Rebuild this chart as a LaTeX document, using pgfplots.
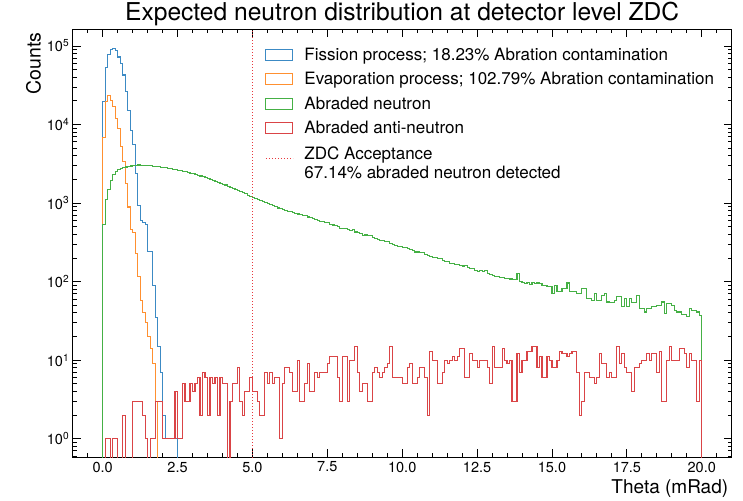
\documentclass[border=0pt]{standalone}
\usepackage{fontspec}
\setmainfont{TeX Gyre Heros}
\usepackage{pgfplots}
\usepackage{pgfplotstable}
\pgfplotsset{compat=1.18}

\definecolor{tabblue}{HTML}{3C8AC4}
\definecolor{taborange}{HTML}{FF9030}
\definecolor{tabgreen}{HTML}{45B045}
\definecolor{tabred}{HTML}{DA4446}
\definecolor{zdcred}{HTML}{E8383D}

\pgfplotsset{
  histbox entry/.style={legend image code/.code={\draw[##1] (0pt,-5.5pt) rectangle (27pt,5.5pt);}},
  acceptance entry/.style={legend image code/.code={\draw[##1] (0pt,0pt) -- (27pt,0pt);}},
}

% Histograms: left bin edge (bin width 1/12 mrad) and counts; 0.01 stands for an empty bin.
\pgfplotstableread[row sep=\\]{
x y\\
0 0.01\\
0 19500\\ 0.0833 52500\\ 0.1667 77600\\ 0.25 90000\\ 0.3333 92000\\ 0.4167 87000\\ 0.5 72400\\ 0.5833 60300\\ 0.6667 42700\\ 0.75 26300\\ 0.8333 15100\\ 0.9167 8500\\
1 5500\\ 1.0833 2400\\ 1.1667 930\\ 1.25 600\\ 1.3333 560\\ 1.4167 540\\ 1.5 240\\ 1.5833 240\\ 1.6667 90\\ 1.75 35\\ 1.8333 15\\ 1.9167 7\\
2 2\\ 2.0833 1\\ 2.1667 1\\ 2.25 1\\ 2.3333 1\\ 2.4167 1\\ 2.5 0.01\\
}\fissiontab

\pgfplotstableread[row sep=\\]{
x y\\
0 0.01\\
0 6900\\ 0.0833 19500\\ 0.1667 23400\\ 0.25 20000\\ 0.3333 17000\\ 0.4167 12000\\ 0.5 8900\\ 0.5833 5250\\ 0.6667 3400\\ 0.75 1780\\ 0.8333 890\\ 0.9167 460\\
1 420\\ 1.0833 230\\ 1.1667 115\\ 1.25 58\\ 1.3333 40\\ 1.4167 30\\ 1.5 20\\ 1.5833 14\\ 1.6667 9\\ 1.75 3\\ 1.8333 0.01\\
}\evaptab

\pgfplotstableread[row sep=\\]{
x y\\
0 0.01\\
0 540\\ 0.0833 1100\\ 0.1667 1480\\ 0.25 1950\\ 0.3333 2290\\ 0.4167 2510\\ 0.5 2690\\ 0.5833 2750\\ 0.6667 2820\\ 0.75 2880\\ 0.8333 2920\\ 0.9167 2960\\
1 2990\\ 1.0833 3020\\ 1.1667 3050\\ 1.25 3030\\ 1.3333 3040\\ 1.4167 3010\\ 1.5 3000\\ 1.5833 2980\\ 1.6667 2950\\ 1.75 2930\\ 1.8333 2900\\ 1.9167 2870\\
2 2860\\ 2.0833 2810\\ 2.1667 2760\\ 2.25 2750\\ 2.3333 2700\\ 2.4167 2650\\ 2.5 2630\\ 2.5833 2600\\ 2.6667 2540\\ 2.75 2500\\ 2.8333 2460\\ 2.9167 2410\\
3 2350\\ 3.0833 2310\\ 3.1667 2250\\ 3.25 2210\\ 3.3333 2170\\ 3.4167 2110\\ 3.5 2040\\ 3.5833 2000\\ 3.6667 1950\\ 3.75 1890\\ 3.8333 1850\\ 3.9167 1790\\
4 1740\\ 4.0833 1700\\ 4.1667 1640\\ 4.25 1590\\ 4.3333 1550\\ 4.4167 1490\\ 4.5 1450\\ 4.5833 1400\\ 4.6667 1350\\ 4.75 1310\\ 4.8333 1260\\ 4.9167 1210\\
5 1180\\ 5.0833 1150\\ 5.1667 1110\\ 5.25 1080\\ 5.3333 1050\\ 5.4167 1010\\ 5.5 975\\ 5.5833 950\\ 5.6667 920\\ 5.75 900\\ 5.8333 865\\ 5.9167 845\\
6 830\\ 6.0833 810\\ 6.1667 790\\ 6.25 785\\ 6.3333 755\\ 6.4167 740\\ 6.5 725\\ 6.5833 710\\ 6.6667 700\\ 6.75 690\\ 6.8333 665\\ 6.9167 650\\
7 632\\ 7.0833 620\\ 7.1667 605\\ 7.25 585\\ 7.3333 580\\ 7.4167 560\\ 7.5 565\\ 7.5833 540\\ 7.6667 525\\ 7.75 515\\ 7.8333 500\\ 7.9167 470\\
8 480\\ 8.0833 470\\ 8.1667 460\\ 8.25 450\\ 8.3333 455\\ 8.4167 428\\ 8.5 418\\ 8.5833 408\\ 8.6667 390\\ 8.75 392\\ 8.8333 382\\ 8.9167 385\\
9 362\\ 9.0833 352\\ 9.1667 340\\ 9.25 330\\ 9.3333 330\\ 9.4167 320\\ 9.5 322\\ 9.5833 305\\ 9.6667 298\\ 9.75 290\\ 9.8333 278\\ 9.9167 282\\
10 275\\ 10.0833 272\\ 10.1667 262\\ 10.25 255\\ 10.3333 250\\ 10.4167 238\\ 10.5 238\\ 10.5833 232\\ 10.6667 232\\ 10.75 220\\ 10.8333 215\\ 10.9167 210\\
11 205\\ 11.0833 202\\ 11.1667 198\\ 11.25 196\\ 11.3333 188\\ 11.4167 182\\ 11.5 180\\ 11.5833 170\\ 11.6667 170\\ 11.75 166\\ 11.8333 167\\ 11.9167 162\\
12 158\\ 12.0833 160\\ 12.1667 150\\ 12.25 147\\ 12.3333 145\\ 12.4167 137\\ 12.5 135\\ 12.5833 137\\ 12.6667 133\\ 12.75 137\\ 12.8333 128\\ 12.9167 122\\
13 120\\ 13.0833 117\\ 13.1667 116\\ 13.25 112\\ 13.3333 112\\ 13.4167 110\\ 13.5 110\\ 13.5833 108\\ 13.6667 106\\ 13.75 107\\ 13.8333 127\\ 13.9167 100\\
14 98\\ 14.0833 95\\ 14.1667 97\\ 14.25 93\\ 14.3333 97\\ 14.4167 95\\ 14.5 96\\ 14.5833 94\\ 14.6667 90\\ 14.75 90\\ 14.8333 86\\ 14.9167 86\\
15 71\\ 15.0833 90\\ 15.1667 74\\ 15.25 74\\ 15.3333 82\\ 15.4167 82\\ 15.5 96\\ 15.5833 74\\ 15.6667 74\\ 15.75 74\\ 15.8333 71\\ 15.9167 71\\
16 82\\ 16.0833 82\\ 16.1667 61\\ 16.25 61\\ 16.3333 58\\ 16.4167 71\\ 16.5 58\\ 16.5833 58\\ 16.6667 67\\ 16.75 71\\ 16.8333 55\\ 16.9167 54\\
17 54\\ 17.0833 58\\ 17.1667 64\\ 17.25 64\\ 17.3333 48\\ 17.4167 61\\ 17.5 48\\ 17.5833 61\\ 17.6667 54\\ 17.75 54\\ 17.8333 67\\ 17.9167 45\\
18 45\\ 18.0833 41\\ 18.1667 45\\ 18.25 45\\ 18.3333 48\\ 18.4167 48\\ 18.5 50\\ 18.5833 50\\ 18.6667 55\\ 18.75 39\\ 18.8333 53\\ 18.9167 53\\
19 50\\ 19.0833 43\\ 19.1667 41\\ 19.25 41\\ 19.3333 38\\ 19.4167 38\\ 19.5 36\\ 19.5833 45\\ 19.6667 43\\ 19.75 43\\ 19.8333 41\\ 19.9167 37\\
20 0.01\\
}\abradedtab

\pgfplotstableread[row sep=\\]{
x y\\
0 0.01\\
0 0.01\\ 0.0833 1\\ 0.1667 1\\ 0.25 0.01\\ 0.3333 1\\ 0.4167 1\\ 0.5 0.01\\ 0.5833 0.01\\ 0.6667 2\\ 0.75 0.01\\ 0.8333 0.01\\ 0.9167 0.01\\
1 3\\ 1.0833 3\\ 1.1667 3\\ 1.25 3\\ 1.3333 2\\ 1.4167 1\\ 1.5 0.01\\ 1.5833 1\\ 1.6667 1\\ 1.75 3\\ 1.8333 3\\ 1.9167 3\\
2 1\\ 2.0833 1\\ 2.1667 1\\ 2.25 1\\ 2.3333 1\\ 2.4167 4\\ 2.5 1\\ 2.5833 1\\ 2.6667 5\\ 2.75 3\\ 2.8333 3\\ 2.9167 5\\
3 4\\ 3.0833 5\\ 3.1667 6\\ 3.25 2\\ 3.3333 7\\ 3.4167 6\\ 3.5 2\\ 3.5833 6\\ 3.6667 5\\ 3.75 6\\ 3.8333 2\\ 3.9167 6\\
4 5\\ 4.0833 5\\ 4.1667 0.01\\ 4.25 3\\ 4.3333 5\\ 4.4167 5\\ 4.5 8\\ 4.5833 3\\ 4.6667 2\\ 4.75 4\\ 4.8333 4\\ 4.9167 6\\
5 4\\ 5.0833 4\\ 5.1667 3\\ 5.25 2\\ 5.3333 2\\ 5.4167 7\\ 5.5 5\\ 5.5833 7\\ 5.6667 5\\ 5.75 6\\ 5.8333 6\\ 5.9167 1\\
6 5\\ 6.0833 8\\ 6.1667 8\\ 6.25 7\\ 6.3333 4\\ 6.4167 4\\ 6.5 10\\ 6.5833 3\\ 6.6667 3\\ 6.75 5\\ 6.8333 9\\ 6.9167 4\\
7 4\\ 7.0833 7\\ 7.1667 6\\ 7.25 7\\ 7.3333 7\\ 7.4167 7\\ 7.5 9\\ 7.5833 11\\ 7.6667 11\\ 7.75 11\\ 7.8333 6\\ 7.9167 3\\
8 11\\ 8.0833 11\\ 8.1667 3\\ 8.25 10\\ 8.3333 10\\ 8.4167 15\\ 8.5 7\\ 8.5833 4\\ 8.6667 5\\ 8.75 5\\ 8.8333 3\\ 8.9167 3\\
9 7\\ 9.0833 8\\ 9.1667 7\\ 9.25 6\\ 9.3333 7\\ 9.4167 8\\ 9.5 9\\ 9.5833 15\\ 9.6667 6\\ 9.75 6\\ 9.8333 6\\ 9.9167 6\\
10 5\\ 10.0833 5\\ 10.1667 8\\ 10.25 9\\ 10.3333 5\\ 10.4167 5\\ 10.5 6\\ 10.5833 8\\ 10.6667 8\\ 10.75 6\\ 10.8333 2\\ 10.9167 13\\
11 10\\ 11.0833 10\\ 11.1667 5\\ 11.25 5\\ 11.3333 7\\ 11.4167 10\\ 11.5 9\\ 11.5833 10\\ 11.6667 11\\ 11.75 10\\ 11.8333 11\\ 11.9167 14\\
12 14\\ 12.0833 6\\ 12.1667 6\\ 12.25 12\\ 12.3333 10\\ 12.4167 10\\ 12.5 8\\ 12.5833 10\\ 12.6667 10\\ 12.75 10\\ 12.8333 8\\ 12.9167 5\\
13 15\\ 13.0833 8\\ 13.1667 8\\ 13.25 8\\ 13.3333 14\\ 13.4167 10\\ 13.5 9\\ 13.5833 10\\ 13.6667 3\\ 13.75 3\\ 13.8333 12\\ 13.9167 7\\
14 10\\ 14.0833 10\\ 14.1667 13\\ 14.25 13\\ 14.3333 15\\ 14.4167 15\\ 14.5 8\\ 14.5833 11\\ 14.6667 6\\ 14.75 6\\ 14.8333 11\\ 14.9167 10\\
15 8\\ 15.0833 8\\ 15.1667 10\\ 15.25 13\\ 15.3333 12\\ 15.4167 12\\ 15.5 11\\ 15.5833 12\\ 15.6667 13\\ 15.75 13\\ 15.8333 7\\ 15.9167 2\\
16 3\\ 16.0833 7\\ 16.1667 7\\ 16.25 6\\ 16.3333 6\\ 16.4167 5\\ 16.5 6\\ 16.5833 12\\ 16.6667 9\\ 16.75 9\\ 16.8333 6\\ 16.9167 7\\
17 6\\ 17.0833 6\\ 17.1667 15\\ 17.25 9\\ 17.3333 12\\ 17.4167 8\\ 17.5 7\\ 17.5833 7\\ 17.6667 4\\ 17.75 8\\ 17.8333 8\\ 17.9167 9\\
18 10\\ 18.0833 10\\ 18.1667 12\\ 18.25 10\\ 18.3333 12\\ 18.4167 12\\ 18.5 7\\ 18.5833 13\\ 18.6667 3\\ 18.75 3\\ 18.8333 10\\ 18.9167 15\\
19 10\\ 19.0833 10\\ 19.1667 10\\ 19.25 14\\ 19.3333 14\\ 19.4167 12\\ 19.5 8\\ 19.5833 12\\ 19.6667 10\\ 19.75 10\\ 19.8333 3\\ 19.9167 10\\
20 0.01\\
}\antitab

\begin{document}
\begin{tikzpicture}
\begin{axis}[
  scale only axis,
  width=659pt, height=428pt,
  ymode=log,
  xmin=-1, xmax=21,
  ymin=0.58, ymax=1.63e5,
  axis line style={line width=1.3pt},
  tick align=inside,
  xtick pos=both, ytick pos=both,
  xtick={0,2.5,5,7.5,10,12.5,15,17.5,20},
  xticklabels={0.0,2.5,5.0,7.5,10.0,12.5,15.0,17.5,20.0},
  minor xtick={-0.5,0.5,1,1.5,2,3,3.5,4,4.5,5.5,6,6.5,7,8,8.5,9,9.5,10.5,11,11.5,12,13,13.5,14,14.5,15.5,16,16.5,17,18,18.5,19,19.5,20.5},
  ytick={1,10,100,1000,10000,100000},
  yticklabels={10\textsuperscript{0},10\textsuperscript{1},10\textsuperscript{2},10\textsuperscript{3},10\textsuperscript{4},10\textsuperscript{5}},
  minor ytick={0.6,0.7,0.8,0.9,2,3,4,5,6,7,8,9,20,30,40,50,60,70,80,90,200,300,400,500,600,700,800,900,2000,3000,4000,5000,6000,7000,8000,9000,20000,30000,40000,50000,60000,70000,80000,90000},
  major tick length=8pt, minor tick length=4pt,
  every tick/.style={black, line width=0.9pt},
  tick label style={font=\fontsize{14.5}{17}\selectfont},
  xticklabel style={yshift=-1pt},
  title={Expected neutron distribution at detector level ZDC},
  title style={font=\fontsize{24.6}{28}\selectfont, at={(0.5,1)}, anchor=base, yshift=2.5pt},
  xlabel={Theta (mRad)},
  xlabel style={font=\fontsize{19}{22}\selectfont, at={(ticklabel cs:1)}, anchor=north east},
  ylabel={Counts},
  ylabel style={font=\fontsize{19.5}{22}\selectfont, at={(ticklabel cs:1)}, anchor=south east, yshift=-1pt},
  legend cell align=left,
  legend style={
    at={(rel axis cs:0.292,0.962)}, anchor=north west,
    draw=none, fill=none, inner sep=0pt,
    font=\fontsize{17}{19.5}\selectfont,
    row sep=6.6pt,
    /tikz/every odd column/.append style={column sep=9pt},
  },
]
\addplot[const plot, tabblue, line width=1.1pt, histbox entry]
  table[x=x, y=y] {\fissiontab};
\addlegendentry{Fission process; 18.23\% Abration contamination}
\addplot[const plot, taborange, line width=1.1pt, histbox entry]
  table[x=x, y=y] {\evaptab};
\addlegendentry{Evaporation process; 102.79\% Abration contamination}
\addplot[const plot, tabgreen, line width=1.1pt, histbox entry]
  table[x=x, y=y] {\abradedtab};
\addlegendentry{Abraded neutron}
\addplot[const plot, tabred, line width=1.1pt, histbox entry]
  table[x=x, y=y] {\antitab};
\addlegendentry{Abraded anti-neutron}
\addplot[zdcred, dotted, line width=1pt, acceptance entry]
  coordinates {(5,0.01) (5,1e6)};
\addlegendentry{\begin{tabular}{@{}l@{}}ZDC Acceptance\\67.14\% abraded neutron detected\end{tabular}}
\end{axis}
\pgfresetboundingbox
\path[use as bounding box] ([shift={(-72.7pt,-42.7pt)}]current axis.south west) rectangle ([shift={(11.3pt,29.3pt)}]current axis.north east);
\end{tikzpicture}
\end{document}
